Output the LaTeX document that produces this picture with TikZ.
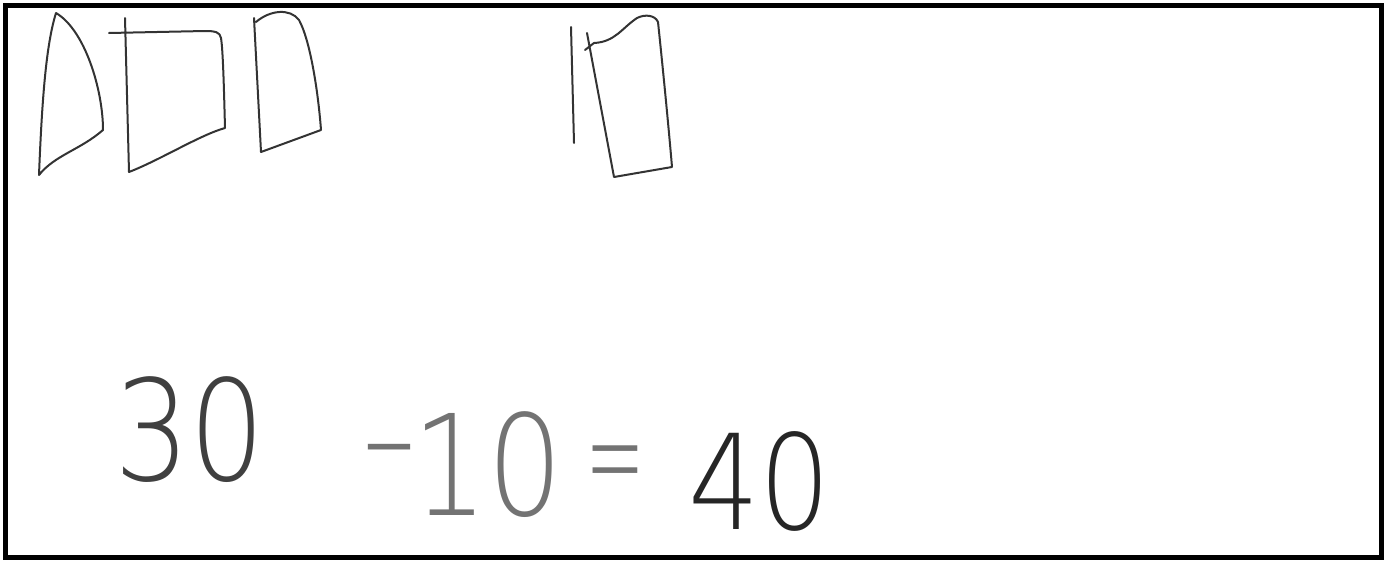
\documentclass[tikz,border=0pt]{standalone}
\usepackage{fontspec}
\newfontfamily\hand{DejaVu Sans ExtraLight}
\begin{document}
\begin{tikzpicture}[x=1pt,y=-1pt,
  pen/.style={draw=black!80, line width=2pt, line join=round, line cap=round},
  numtxt/.style={font=\hand\fontsize{140}{140}\selectfont, inner sep=0pt, xscale=0.85}]
\useasboundingbox (0,0) rectangle (1389,560);
\draw[line width=5pt] (5,5) rectangle (1381,557);
% shape 1
\draw[pen] (56,13) .. controls (46,45) and (42,100) .. (39,175)
  .. controls (55,155) and (80,150) .. (103,130)
  .. controls (103,90) and (85,30) .. (56,13);
% shape 2
\draw[pen] (125,18) -- (129,172) .. controls (160,160) and (200,135) .. (225,128)
  .. controls (224,90) and (223,50) .. (221,38)
  .. controls (220,32) and (215,31) .. (205,31) -- (109,33);
% shape 3
\draw[pen] (254,18) -- (261,152) -- (321,130)
  .. controls (318,90) and (310,40) .. (299,20)
  .. controls (290,8) and (270,10) .. (256,22);
% shape 4
\draw[pen] (571,27) -- (574,143);
\draw[pen] (587,33) -- (614,177) -- (672,167)
  .. controls (668,120) and (662,60) .. (658,22)
  .. controls (655,15) and (645,14) .. (637,18)
  .. controls (622,28) and (615,42) .. (594,43) -- (585,50);
% equation
\node[numtxt, text=black!75] (n30) at (190,430) {30};
\node[numtxt, text=black!55, xscale=1.35] (nminus) at (389,465) {-};
\node[numtxt, text=black!55] (n10) at (488,465) {10};
\node[numtxt, text=black!55, xscale=0.6] (neq) at (615,475) {=};
\node[numtxt, text=black!85, font=\hand\fontsize{132}{132}\selectfont] (n40) at (760,481) {40};
\end{tikzpicture}
\end{document}
